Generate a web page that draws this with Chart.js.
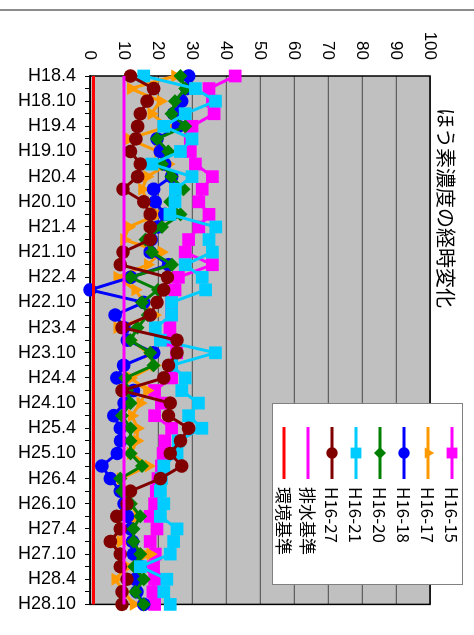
<!DOCTYPE html>
<html>
<head>
<meta charset="utf-8">
<script src="https://cdn.jsdelivr.net/npm/chart.js@4"></script>
<style>
  body { margin: 0; background: #fff; width: 474px; height: 635px; overflow: hidden; position: relative; }
  #linhaTopo { position: absolute; left: 0; top: 9px; width: 474px; height: 2px; background: #8c8c8c; }
  #giro { position: absolute; left: 0; top: 0; width: 635px; height: 474px;
          transform-origin: 0 0; transform: translate(474px, 0) rotate(90deg); }
</style>
</head>
<body>
<div id="linhaTopo"></div>
<div id="giro"><canvas id="graficoBoro" width="635" height="474"></canvas></div>
<script>
// dados (mg/L)
var meses = [
  'H18.4', 'H18.7', 'H18.10', 'H19.1',
  'H19.4', 'H19.7', 'H19.10', 'H20.1',
  'H20.4', 'H20.7', 'H20.10', 'H21.1',
  'H21.4', 'H21.7', 'H21.10', 'H22.1',
  'H22.4', 'H22.7', 'H22.10', 'H23.1',
  'H23.4', 'H23.7', 'H23.10', 'H24.1',
  'H24.4', 'H24.7', 'H24.10', 'H25.1',
  'H25.4', 'H25.7', 'H25.10', 'H26.1',
  'H26.4', 'H26.7', 'H26.10', 'H27.1',
  'H27.4', 'H27.7', 'H27.10', 'H28.1',
  'H28.4', 'H28.7', 'H28.10'
];

var h16_15 = [42.7, 35, 36, 36.5, 30, 29.5, 29.5, 31, 36, 33,
  32, 35, 32, 29, 28, 36, 26, 25, 24, 24,
  23.5, 24, 25.5, 24, 24, 19, 21, 19, 24, 22,
  21.5, 21, 20, 19.5, 19, 17.7, 19.7, 17.7, 19.2, 18.7,
  19, 18.5, 19];
var h16_17 = [25, 12, 20.7, 18, 23, 11.4, 20, 23, 16.8, 15.3,
  16.8, 20, 11.4, 10, 21, 17, 8, 13.3, 16, 19,
  8, 12, 17, 19, 12, 16.8, 14.8, 12.3, 14, 13.8,
  12, 17.2, 9, 11, 12, 14, 10, 9, 17.7, 11,
  7.4, 10, 12.8];
var h16_18 = [29, 28.5, 27, 24.6, 26, 19.7, 20.7, 22, 24, 18.7,
  19.2, 22, 20, 18, 17.7, 23.1, 12, 0, 15.8, 7.4,
  10, 11, 18.7, 9.9, 7.9, 12.8, 10, 7, 8.9, 9,
  8, 3.5, 6, 8.9, 10, 11, 12, 12.5, 12.8, 14.8,
  13.3, 13.8, 15.8];
var h16_20 = [26.6, 28, 25, 24, 28, 19.7, 23, 21.2, 24, 27.5,
  23.6, 26.6, 21.2, 16.3, 18.2, 24.1, 11.9, 20, 15.3, 17,
  14, 11.9, 17.7, 18.7, 10.4, 10.9, 11.9, 9.4, 11.9, 11.9,
  11.9, 15.3, 8.9, 9.4, 12, 14.8, 12.8, 12.8, 14.8, 13,
  15.8, 13.3, 15.8];
var h16_21 = [15.8, 31, 36.9, 28, 21.7, 30, 26.6, 18.2, 30, 25.1,
  25, 23.5, 37, 35, 36, 28, 33, 34, 24, 24,
  19.2, 20.7, 36.9, 24, 28, 27, 31.9, 29, 32.9, 26,
  25.6, 21.7, 21, 20.7, 21.7, 20.7, 25.6, 24.6, 23.6, 14.8,
  22.6, 21.7, 23.6];
var h16_27 = [11.9, 18.7, 16.8, 14.8, 14, 13.5, 11.9, 14.8, 14, 9.7,
  15.8, 17.7, 17.7, 17.7, 9.7, 8.9, 22.8, 21.7, 19.7, 17.7,
  9.4, 25.6, 25.6, 23.1, 21.7, 9.4, 23.6, 23.1, 29, 26.6,
  23.6, 27, 20.7, 11.9, 10.9, 7.9, 8.9, 6, 8.9, 8.9,
  10.9, 9.4, 9.4];
var haisuiKijun = [10, 10, 10, 10, 10, 10, 10, 10, 10, 10,
  10, 10, 10, 10, 10, 10, 10, 10, 10, 10,
  10, 10, 10, 10, 10, 10, 10, 10, 10, 10,
  10, 10, 10, 10, 10, 10, 10, 10, 10, 10,
  10, 10, 10];
var kankyoKijun = [1, 1, 1, 1, 1, 1, 1, 1, 1, 1,
  1, 1, 1, 1, 1, 1, 1, 1, 1, 1,
  1, 1, 1, 1, 1, 1, 1, 1, 1, 1,
  1, 1, 1, 1, 1, 1, 1, 1, 1, 1,
  1, 1, 1];

var titulo = 'ほう素濃度の経時変化';
var fonteLat = '"Liberation Sans", Arial, sans-serif';
var fonteJp = '"Noto Sans CJK JP", sans-serif';

function serie(nome, dados, cor, estilo, raio, ordem) {
  return {
    label: nome,
    data: dados,
    borderColor: cor,
    backgroundColor: cor,
    borderWidth: 3,
    pointStyle: estilo,
    pointRadius: raio,
    pointBorderWidth: 0,
    pointBackgroundColor: cor,
    tension: 0,
    clip: false,
    order: ordem
  };
}

var datasets = [
  serie('H16-15', h16_15, '#ff00ff', 'rect', 9, 8),
  serie('H16-17', h16_17, '#ff9900', 'triangle', 7.5, 7),
  serie('H16-18', h16_18, '#0000ff', 'circle', 6.8, 6),
  serie('H16-20', h16_20, '#008000', 'rectRot', 7, 5),
  serie('H16-21', h16_21, '#00ccff', 'rect', 9, 4),
  serie('H16-27', h16_27, '#800000', 'circle', 6.8, 3),
  serie('排水基準', haisuiKijun, '#ff00ff', 'circle', 0, 2),
  serie('環境基準', kankyoKijun, '#ff0000', 'circle', 0, 1)
];

// fundo cinza, borda, titulo e legenda
var extras = {
  id: 'extras',
  beforeDraw: function (chart) {
    var a = chart.chartArea, ctx = chart.ctx;
    ctx.save();
    ctx.fillStyle = '#c0c0c0';
    ctx.fillRect(a.left, a.top, a.right - a.left, a.bottom - a.top);
    ctx.restore();
  },
  beforeDatasetsDraw: function (chart) {
    var a = chart.chartArea, ctx = chart.ctx;
    ctx.save();
    ctx.strokeStyle = '#000';
    ctx.lineWidth = 1.5;
    ctx.strokeRect(a.left, a.top, a.right - a.left, a.bottom - a.top);
    ctx.restore();
  },
  afterDraw: function (chart) {
    var ctx = chart.ctx;
    ctx.save();
    ctx.fillStyle = '#000';
    ctx.font = '20px ' + fonteJp;
    ctx.textAlign = 'center';
    ctx.textBaseline = 'middle';
    ctx.fillText(titulo, 208, 28);

    // legenda
    ctx.fillStyle = '#fff';
    ctx.fillRect(403, 11, 181, 190);
    ctx.strokeStyle = '#808080';
    ctx.lineWidth = 1;
    ctx.strokeRect(403.5, 11.5, 181, 190);
    ctx.textAlign = 'left';
    chart.data.datasets.forEach(function (ds, k) {
      var y = 22 + 24 * k;
      ctx.strokeStyle = ds.borderColor;
      ctx.lineWidth = 3;
      ctx.beginPath();
      ctx.moveTo(427, y);
      ctx.lineTo(479, y);
      ctx.stroke();
      if (ds.pointRadius > 0) {
        ctx.fillStyle = ds.borderColor;
        Chart.helpers.drawPoint(ctx, { pointStyle: ds.pointStyle, radius: ds.pointRadius * 0.85, rotation: 0, borderWidth: 0 }, 453, y);
      }
      ctx.fillStyle = '#000';
      ctx.font = '17px ' + fonteJp;
      ctx.fillText(ds.label, 487, y + 1);
    });
    ctx.restore();
  }
};

var ctx = document.getElementById('graficoBoro').getContext('2d');
var chart = new Chart(ctx, {
  type: 'line',
  data: { labels: meses, datasets: datasets },
  options: {
    responsive: false,
    animation: false,
    layout: { padding: { top: 44, right: 24, left: 0, bottom: 0 } },
    plugins: { legend: { display: false }, title: { display: false }, tooltip: { enabled: false } },
    scales: {
      x: {
        offset: false,
        grid: { drawOnChartArea: false, tickLength: 5, color: '#000' },
        border: { color: '#000', width: 1.5 },
        ticks: {
          autoSkip: false, minRotation: 90, maxRotation: 90, padding: 9, color: '#000',
          font: { family: fonteLat, size: 18 },
          callback: function (v, i) { return i % 2 == 0 ? this.getLabelForValue(v) : ''; }
        },
        afterFit: function (s) { s.height = 90; }
      },
      y: {
        min: 0,
        max: 100,
        grid: { color: '#606060', lineWidth: 1.2, drawTicks: false },
        border: { display: false },
        ticks: { stepSize: 10, padding: 16, color: '#000', font: { family: fonteLat, size: 17 } },
        afterFit: function (s) { s.width = 76; }
      }
    }
  },
  plugins: [extras]
});
</script>
</body>
</html>
